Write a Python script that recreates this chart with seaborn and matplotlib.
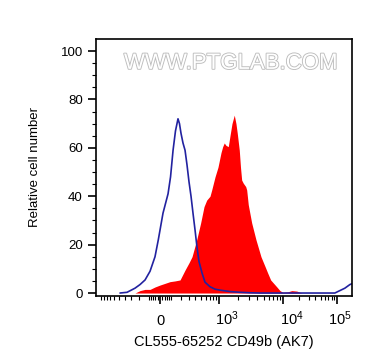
import numpy as np
import matplotlib
matplotlib.use("Agg")
import matplotlib.pyplot as plt
import matplotlib.patheffects as pe
from matplotlib.transforms import ScaledTranslation
import seaborn as sns

# control (blue outline) histogram: intensity, relative count
blue_x = [-482, -360, -249, -190, -137, -89, -44, -15, 26, 71, 94, 118, 142, 168,
          184, 201, 224, 249, 274, 301, 330, 360, 393, 426, 463, 522, 587, 711,
          859, 1033, 1490, 2141, 3070, 4400, 20650, 91800, 113700, 140700,
          174200, 197800]
blue_y = [0, 0.3, 2, 3.5, 5.4, 9, 15, 22, 33, 41, 48, 59, 67, 72,
          70, 66, 62, 59, 53, 46, 40, 33, 26, 19, 13, 8.3, 4.5, 2.6,
          1.6, 1.2, 0.6, 0.3, 0.1, 0, 0, 0, 1, 2, 3.5, 4]

# CD49b stained (red filled) histogram
red_x = [-249, -190, -137, -89, -44, 0, 44, 89, 137, 190, 249, 301, 345, 421,
         495, 565, 627, 711, 759, 859, 959, 1072, 1141, 1208, 1289, 1400, 1490,
         1601, 1741, 1851, 1941, 2087, 2180, 2275, 2410, 2630, 2727, 2887, 3263,
         3810, 4560, 5270, 5800, 6460, 8010, 9020, 10000, 12380, 14680, 18150,
         22490]
red_y = [0, 1, 1.5, 1.5, 2.5, 3.3, 4, 4.7, 5, 5.4, 9.5, 12.5, 15, 22,
         29, 35.7, 38.4, 40, 42.6, 48, 52, 58, 60.5, 62, 61, 60.5, 65,
         70, 73.5, 70, 66, 59, 52, 46.7, 45.4, 44, 42.6, 36.5, 29,
         22, 15, 11, 8.3, 5.4, 2.6, 1, 0.3, 0.5, 1, 0.8, 0]

x_ticks = [0, 1e3, 1e4, 1e5]
x_labels = ['0', '$10^3$', '$10^4$', '$10^5$']
y_ticks = [0, 20, 40, 60, 80, 100]

# logicle-like display scale (asinh, slightly compressed above 10^4)
C = 243.0
U = np.arcsinh(np.array([-1e7, 1e4, 1e8]) / C)
P = np.array([283 - (U[1] - U[0]) * 27.86, 283.0, 283 + (U[2] - U[1]) * 23.48])


def fwd(x):
    return np.interp(np.arcsinh(np.asarray(x, dtype=float) / C), U, P)


def inv(p):
    return C * np.sinh(np.interp(np.asarray(p, dtype=float), P, U))


sns.set_style("ticks")
plt.rcParams['font.family'] = ['Liberation Sans', 'DejaVu Sans']
plt.rcParams['mathtext.fontset'] = 'custom'
plt.rcParams['mathtext.rm'] = 'Liberation Sans'
plt.rcParams['mathtext.it'] = 'Liberation Sans:italic'
for k in ['text.color', 'axes.labelcolor', 'xtick.color', 'ytick.color', 'axes.edgecolor']:
    plt.rcParams[k] = 'black'

fig = plt.figure(figsize=(3.72, 3.64), dpi=100)
ax = fig.add_axes([0.258, 0.187, 0.688, 0.706])
ax.set_xscale('function', functions=(fwd, inv))

ax.fill_between(red_x, red_y, color='#ff0000', lw=0)
sns.lineplot(x=blue_x, y=blue_y, ax=ax, color='#2222a0', lw=1.2,
             estimator=None, sort=False)

ax.set_xlim(-1200, 190000)
ax.set_ylim(-1.2, 105)

ax.set_yticks(y_ticks)
ax.set_yticks(np.arange(0, 101, 5), minor=True)
ax.set_xticks(x_ticks)
ax.set_xticklabels(x_labels)
minor_x = (list(range(-1000, -100, 100)) + list(range(-100, 101, 20)) +
           list(range(200, 1000, 100)) + list(range(2000, 10000, 1000)) +
           list(range(20000, 100000, 10000)))
ax.set_xticks(minor_x, minor=True)

ax.tick_params(which='major', length=6, width=1.2, labelsize=9.5, color='black')
ax.tick_params(which='minor', length=3, width=0.8, color='black')
ax.tick_params(axis='x', which='major', pad=15)
for s in ax.spines.values():
    s.set_linewidth(1.2)
    s.set_color('black')

offsets = [0, 8, 9, 3]
for lbl, dx in zip(ax.get_xticklabels(), offsets):
    lbl.set_verticalalignment('baseline')
    lbl.set_fontsize(10.5)
    lbl.set_transform(lbl.get_transform() + ScaledTranslation(dx / 100, 0, fig.dpi_scale_trans))

ax.set_ylabel('Relative cell number', fontsize=9.5, labelpad=14)
ax.set_xlabel('CL555-65252 CD49b (AK7)', fontsize=10.5, labelpad=5)

ax.text(0.527, 0.905, 'WWW.PTGLAB.COM', transform=ax.transAxes, ha='center',
        va='center', fontsize=16, color='white', fontstretch='condensed',
        path_effects=[pe.withStroke(linewidth=1.3, foreground='#bdbdbd')])

fig.savefig('out.png', dpi=100)
